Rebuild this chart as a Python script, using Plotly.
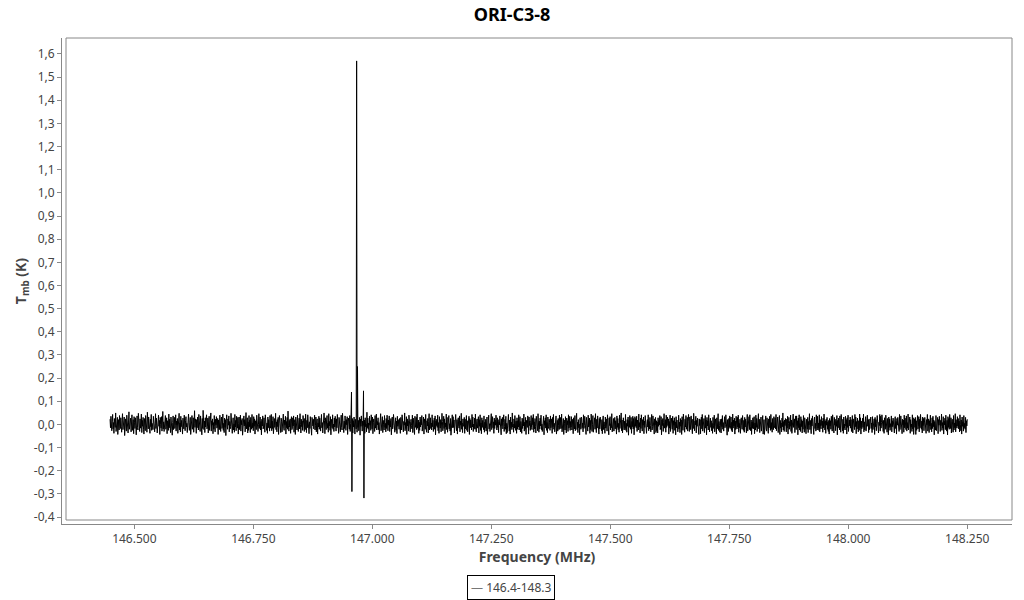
import plotly.graph_objects as go

# ---- data -----------------------------------------------------------------
series_name = "146.4-148.3"
freq_start = 146.449   # MHz, first channel
freq_stop = 148.250    # MHz, last channel
count_k = 0.0016       # K per count in the lists below

# baseline noise per channel, counts (approx. +/-0.045 K)
noise_counts = [
    14,-9,22,-3,-17,8,27,-12,5,-24,16,1,-8,31,-19,10,-4,19,-27,6,13,-15,24,-2,-11,
    18,-6,-21,11,29,-14,3,-9,20,-30,7,15,-1,-18,25,-7,12,-23,4,34,-13,9,-5,17,-20,
    2,26,-16,-4,13,-25,21,6,-11,18,-2,-28,10,23,-8,-15,30,-3,7,-19,15,-10,1,28,-22,
    11,-5,19,-13,-26,16,4,-17,24,-7,9,-21,33,-2,-12,20,-9,5,-24,14,-6,27,-16,3,-1,
    -14,22,-8,12,-20,2,29,-11,17,-3,-23,8,-15,25,-5,11,-27,19,0,-10,21,-18,6,35,-12,
    7,-19,15,-2,24,-13,-6,18,-25,10,3,-16,28,-9,14,-4,-22,20,-7,12,-29,5,23,-14,1,
    19,-11,-3,26,-18,9,-1,16,-24,13,-8,30,-15,4,-20,22,-6,11,-2,-26,17,8,-12,25,-5,
    -17,10,21,-7,3,-22,14,-10,28,-4,-16,6,19,-27,12,-1,24,-13,-5,18,-21,2,37,-8,15,
    4,-24,13,-9,20,-1,-15,27,-6,11,-19,23,-3,8,-28,16,-11,38,-4,-14,9,-22,18,-7,12,
    26,-12,-5,17,-23,7,22,-16,2,-9,31,-18,10,-2,15,-25,5,-13,24,-6,-20,14,-1,21,-10,
    -8,16,-27,12,5,-14,25,-3,-19,9,20,-11,-4,28,-16,3,-22,17,-8,13,-30,10,26,-5,-13,
    15,-2,23,-20,8,-12,-6,30,-9,14,-24,4,18,-15,1,-21,27,-7,11,-17,22,-3,-10,19,-26,
    3,20,-14,-8,25,-18,11,-1,16,-29,6,-10,23,-4,13,-20,9,32,-12,-3,18,-23,7,-16,24,
    -6,12,-22,19,-2,-13,27,-9,4,-17,21,-5,15,-26,10,2,-14,25,-8,16,-19,-1,29,-11,6,
    20,-15,8,-28,14,-4,23,-12,-7,18,1,-21,26,-6,11,-16,4,-24,20,-9,13,-3,-18,24,-10,
    -3,27,-17,9,-11,21,-25,5,16,-8,-2,30,-14,7,-20,13,-6,19,-27,3,24,-12,10,-22,17,
    9,-20,14,-5,28,-10,-16,12,-1,22,-26,8,-9,19,-13,36,-4,-18,11,-7,15,-24,2,21,-14,
    -11,18,-4,23,-21,6,13,-27,20,-3,10,-15,25,-8,-19,4,17,-12,29,-1,-23,14,-6,9,-16,
    24,-7,1,-19,16,-14,28,-5,-22,11,-9,26,-2,13,-25,7,-11,21,-17,3,-29,19,8,-4,14,
    -12,6,25,-15,-3,20,-20,9,15,-26,4,-7,22,-13,17,-1,-18,11,27,-9,5,-23,16,-2,31,
    10,-25,18,-6,-14,12,24,-10,3,-21,29,-4,8,-16,21,-28,14,-2,-9,26,-13,1,-19,17,-7,
    22,-3,-18,15,-9,27,-12,6,-24,19,-1,11,-20,4,25,-8,-15,30,-6,13,-22,9,-11,23,-4,
    -16,13,-1,21,-27,8,17,-6,-13,24,-19,2,28,-10,-4,16,-23,10,-7,20,-2,-26,14,5,-12,
    7,-21,26,-8,11,-17,3,19,-29,14,-5,23,-11,-18,9,-3,27,-14,12,-24,18,-6,1,-20,33,
    -9,17,-13,4,-23,22,-2,10,-16,26,-7,-12,20,-25,6,15,-4,-19,24,-10,2,28,-15,8,-1,
    18,-14,5,-26,13,-3,29,-17,8,-6,21,-22,11,-1,-15,24,-8,3,-20,16,-11,25,-4,-17,12,
    -2,23,-19,10,-7,16,-28,4,20,-12,-3,27,-9,14,-21,1,18,-16,9,-25,22,-5,13,-8,-13,
    16,-10,-24,19,2,-15,26,-6,12,-20,8,-2,31,-17,5,-11,21,-27,15,-4,10,-18,25,-9,3,
    -20,8,14,-3,-12,25,-22,17,-5,9,-27,22,-8,1,19,-14,28,-10,-1,12,-24,6,-16,20,-7,
    13,-1,24,-18,6,-9,20,-26,15,3,-13,27,-7,-21,10,-4,16,-23,8,29,-15,-2,18,-11,4,
    -15,26,-6,11,-19,2,17,-13,23,-28,9,-3,14,-8,25,-17,5,-24,21,-1,-10,13,-20,7,30,
    8,-17,-2,22,-11,15,-25,4,-7,28,-14,19,-21,10,-5,24,-12,2,-18,16,-29,11,-3,26,-9,
    21,-8,12,-23,5,-14,27,-1,-17,13,-26,7,18,-6,-10,23,-20,9,-2,30,-13,4,-22,15,-5,
    -4,19,-24,14,-12,3,24,-16,10,-20,6,-1,22,-27,16,-9,12,-3,-15,27,-7,20,-19,1,-11,
    17,-13,28,-6,-20,9,15,-10,-2,21,-23,13,-5,26,-16,4,-25,18,-8,11,-1,-14,23,-21,6,
    -10,14,-18,5,20,-27,11,-4,25,-12,2,-19,16,-6,29,-14,-3,21,-9,7,-24,17,-11,12,-2,
    25,-5,-15,18,-8,13,-22,7,-1,23,-17,10,-28,15,-3,19,-12,5,26,-19,-6,14,-13,22,-25,
    3,-22,16,-11,27,-4,-18,12,-26,20,-9,6,-14,31,-7,1,-21,15,-10,24,-3,-16,9,-24,18,
    -13,10,-7,26,-15,4,21,-20,8,-2,-24,17,-11,13,-4,28,-18,6,-13,19,-27,11,2,-8,23,
    12,-26,20,-3,9,-16,5,24,-9,-14,18,-1,27,-21,7,-12,16,-5,-23,22,-8,3,-17,29,-6,
    -21,9,-12,17,-4,25,-14,1,-19,13,-7,22,-28,10,-2,18,-10,26,-16,5,-22,20,-5,-11,14,
    6,-16,23,-9,-1,15,-24,19,-6,27,-13,3,-20,14,-8,23,-26,8,11,-18,16,-3,-14,25,-12,
    19,-4,-11,28,-20,7,-9,16,-27,12,2,-15,21,-5,-23,17,-1,10,-19,26,-10,-4,22,-16,8,
    -7,21,-15,3,14,-25,18,-2,-12,24,-17,9,-6,30,-14,6,-22,13,-9,1,-28,18,7,-13,20,
    15,-9,4,-20,26,-11,-3,22,-16,8,-27,19,-5,12,-18,25,-7,-2,17,-24,11,-14,28,-1,-19,
    -1,24,-21,10,-8,18,-13,29,-4,-22,14,-10,23,-3,9,-26,16,-12,20,-6,4,-17,13,-25,11,
    23,-14,7,-5,-24,20,-10,15,-1,-18,26,-6,11,-28,17,-3,21,-15,2,-9,29,-20,5,-11,16,
    -18,5,19,-12,10,-2,-26,23,-8,16,-14,3,-21,25,-11,7,-4,31,-17,12,-23,1,18,-7,-15,
    9,-11,27,-16,3,-21,13,-5,20,-29,11,-8,24,-2,-13,19,-24,8,-6,22,-12,16,-28,4,21,
    -5,16,-9,22,-19,12,-1,-15,28,-7,5,-23,17,-11,26,-4,-18,13,-2,20,-25,9,-8,24,-14,
    14,-24,2,13,-7,26,-17,8,-12,19,-3,-20,9,27,-15,-6,23,-11,4,-26,15,-1,19,-22,10,
    -17,7,-23,18,-5,11,-1,24,-14,-9,21,-28,12,-3,16,-19,6,29,-10,-4,13,-21,25,-8,2,
    20,-3,15,-26,8,-10,25,-19,3,17,-6,-13,22,-24,10,-2,18,-16,7,-28,21,-9,12,-1,-20,
    -8,25,-12,6,-22,16,-5,12,-27,21,-2,-16,28,-9,3,-21,14,-7,24,-13,-3,19,-18,8,27,
    11,-19,20,-4,-14,23,-9,1,-25,14,-11,30,-6,-17,9,-1,22,-23,11,-5,17,-14,2,-27,15,
    -3,13,-25,9,20,-12,27,-18,5,-6,16,-22,1,24,-10,12,-28,19,-4,10,-15,26,-7,-20,6,
    17,-8,10,-17,3,-24,19,-2,-11,25,-20,7,15,-5,-26,18,-12,4,29,-16,8,-3,-21,14,-9,
    -23,15,-6,24,-13,5,-18,11,21,-9,-1,26,-15,8,-29,13,2,-19,16,-8,23,-11,-4,20,-16,
    6,-20,28,-10,12,-4,17,-26,9,-14,22,-3,-12,19,-7,25,-21,3,-9,14,-24,10,18,-2,-13,
    24,-1,-16,11,-21,19,-7,14,-3,-23,10,27,-18,2,-8,21,-14,26,-5,-17,12,-27,7,-10,18,
    -12,9,21,-25,4,-15,25,-8,16,-19,1,-7,29,-12,14,-22,6,-3,20,-18,11,-1,24,-26,3,
    13,-27,7,-2,23,-11,-18,18,-6,10,-24,15,-9,22,-1,-16,27,-13,5,-21,16,-7,-14,21,-4,
    -9,18,-12,27,-17,6,-4,20,-22,13,-1,24,-27,11,-10,4,-20,17,-6,31,-15,8,-19,12,-3,
    16,-6,-20,14,-10,22,-26,3,19,-13,8,-5,25,-19,12,-24,1,-11,28,-8,-2,15,-22,9,23,
    -14,23,-3,10,-28,17,-9,26,-15,2,-19,21,-6,13,-23,9,-13,24,-2,-21,18,-10,4,-25,14,
    1,-13,19,-22,8,-1,29,-14,11,-8,-25,16,-4,23,-16,5,-27,12,20,-11,3,-18,26,-6,-15,
    22,-10,4,-16,26,-20,13,-5,-12,21,-3,9,-21,17,-9,28,-7,-15,10,-24,14,-2,19,-13,7,
    -19,11,-26,16,-4,10,-13,22,-8,-18,26,-11,5,-23,19,-2,14,-17,8,-5,24,-28,11,-9,17,
    8,-15,23,-7,-21,27,-3,6,-17,14,-24,20,-10,1,-15,22,-4,13,-26,18,-8,25,-19,-1,12,
    -4,20,-10,13,-19,-5,24,-23,15,-2,11,-14,27,-6,20,-25,8,-12,17,-1,-20,10,-16,28,-9,
    18,-26,9,-12,2,17,-8,28,-20,7,-15,-3,21,-18,6,-11,25,-5,12,-22,15,-14,3,-7,20,
    -11,4,-22,21,-14,8,-2,15,-27,19,-6,13,-17,2,24,-12,10,-23,6,-3,27,-18,22,-10,5,
    26,-7,14,-19,11,-24,18,-3,-13,25,-9,4,-21,16,-1,-28,20,-8,15,-16,2,-6,23,-20,10,
    -6,17,-15,3,-23,12,21,-11,8,-26,16,-2,19,-8,11,-19,27,-14,-4,23,-11,7,-25,14,-1,
    12,-21,25,-9,17,-4,-14,23,-18,5,-10,28,-15,9,-3,20,-24,13,-7,1,-19,26,-12,18,-27,
    -2,15,-8,19,-27,10,-16,6,24,-12,-5,21,-20,14,-9,27,-6,-13,9,-23,20,-3,16,-17,4,
    19,-13,2,-24,13,-1,27,-18,-7,15,-22,10,-4,25,-14,3,-20,18,-11,22,-6,12,-28,8,-10,
    -15,24,-17,7,-6,19,-25,13,-2,22,-9,-19,11,-3,28,-16,5,-10,21,-26,9,-1,17,-14,25,
    5,-18,11,-28,21,-8,16,-13,27,-4,-11,18,-23,8,14,-7,-21,24,-15,4,-9,29,-20,13,-5,
    -10,21,-5,16,-12,9,-20,26,-1,-17,12,-26,20,-5,7,-18,24,-9,3,-13,19,-22,10,-4,14,
]

# spectral line channels (index into the channel grid) and their values, K
line_channels = [563, 564, 575, 577, 591, 592]
line_values_k = [0.140, -0.290, 1.570, 0.250, 0.145, -0.318]

x_tick_vals = [146.5, 146.75, 147.0, 147.25, 147.5, 147.75, 148.0, 148.25]
x_tick_text = ["146.500", "146.750", "147.000", "147.250", "147.500",
               "147.750", "148.000", "148.250"]
y_tick_vals = [-0.4, -0.3, -0.2, -0.1, 0.0, 0.1, 0.2, 0.3, 0.4, 0.5, 0.6,
               0.7, 0.8, 0.9, 1.0, 1.1, 1.2, 1.3, 1.4, 1.5, 1.6]
y_tick_text = ["-0,4", "-0,3", "-0,2", "-0,1", "0,0", "0,1", "0,2", "0,3",
               "0,4", "0,5", "0,6", "0,7", "0,8", "0,9", "1,0", "1,1", "1,2",
               "1,3", "1,4", "1,5", "1,6"]

# ---- build spectrum -------------------------------------------------------
n = len(noise_counts)
step = (freq_stop - freq_start) / (n - 1)
freq = [freq_start + i * step for i in range(n)]
tmb = [c * count_k for c in noise_counts]
for ch, v in zip(line_channels, line_values_k):
    tmb[ch] = v

# ---- figure ---------------------------------------------------------------
W, H = 1024, 600
ml, mr, mt, mb = 62, 12, 38, 76
pw, ph = W - ml - mr, H - mt - mb

font_family = "Noto Sans, Open Sans, DejaVu Sans, sans-serif"
axis_grey = "#888888"
text_grey = "#444444"

fig = go.Figure()
fig.add_trace(go.Scatter(
    x=freq, y=tmb, mode="lines", name=series_name,
    line=dict(color="black", width=1),
    showlegend=False,
))

fig.update_layout(
    width=W, height=H,
    margin=dict(l=ml, r=mr, t=mt, b=mb),
    paper_bgcolor="white", plot_bgcolor="white",
    font=dict(family=font_family, size=12, color=text_grey),
    title=dict(text="<b>ORI-C3-8</b>", x=0.5, xref="container", xanchor="center",
               y=1 - 15 / H, yref="container", yanchor="middle",
               font=dict(size=18, color="black", family=font_family)),
    showlegend=False,
    xaxis=dict(
        range=[146.348, 148.344], showgrid=False, zeroline=False,
        showline=True, linecolor=axis_grey, linewidth=1,
        ticks="outside", ticklen=4, tickcolor=axis_grey,
        tickvals=x_tick_vals, ticktext=x_tick_text,
        tickfont=dict(size=12, color=text_grey),
        title=dict(text="<b>Frequency (MHz)</b>", standoff=5,
                   font=dict(size=14, color=text_grey)),
    ),
    yaxis=dict(
        range=[-0.430, 1.669], showgrid=False, zeroline=False,
        showline=True, linecolor=axis_grey, linewidth=1,
        ticks="outside", ticklen=4, tickcolor=axis_grey,
        tickvals=y_tick_vals, ticktext=y_tick_text,
        tickfont=dict(size=12, color=text_grey),
        title=dict(text="<b>T<sub>mb</sub> (K)</b>", standoff=3,
                   font=dict(size=14, color=text_grey)),
    ),
)

# inner frame, offset a few px from the axis lines
fig.add_shape(type="rect", xref="paper", yref="paper",
              x0=4 / pw, x1=1, y0=4 / ph, y1=1,
              line=dict(color=axis_grey, width=1), fillcolor="rgba(0,0,0,0)",
              layer="below")

# legend box (series key) below the axis title
fig.add_annotation(
    text="<span style='color:#777777'>—</span> " + series_name,
    xref="paper", yref="paper",
    x=(511 - ml) / pw, y=-(587.5 - (H - mb)) / ph,
    xanchor="center", yanchor="middle", showarrow=False,
    bordercolor="black", borderwidth=1, borderpad=3, bgcolor="white",
    font=dict(size=12, color=text_grey, family=font_family),
)

fig.write_html("out.html", config={"displayModeBar": False},
               post_script="document.body.style.margin='0px';")
